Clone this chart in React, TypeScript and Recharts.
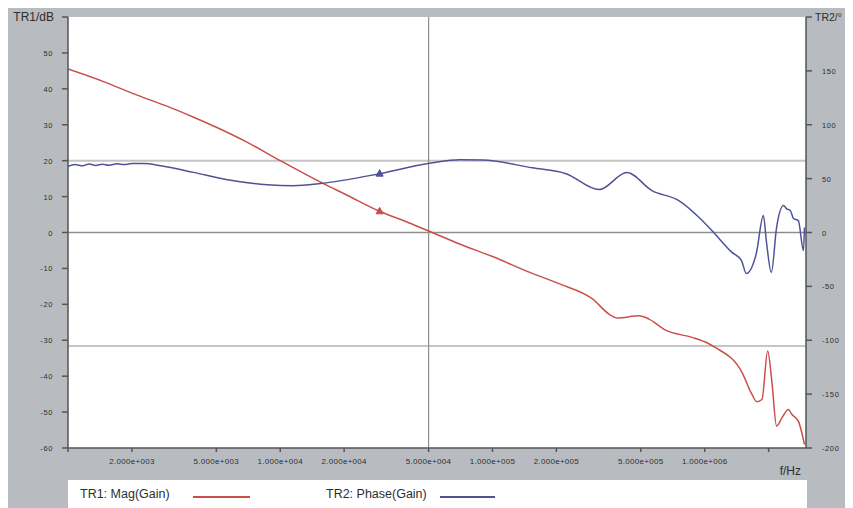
import {
  LineChart,
  Line,
  XAxis,
  YAxis,
  CartesianGrid,
  ReferenceLine,
  ReferenceDot,
  Legend,
} from 'recharts'

// TR1: magnitude (dB) vs frequency (Hz)
const magFreq = [
  1000, 1500, 2000, 3000, 3908, 5000, 7000, 10000, 16600, 20000, 29400, 40000,
  52000, 70000, 100000, 150000, 207000, 296000, 354000, 387000, 490000, 546000,
  654000, 871000, 1040000, 1120000, 1500000, 1670000, 1760000, 1860000, 1980000,
  2070000, 2180000, 2310000, 2480000, 2570000, 2760000, 2950000,
]
const magDb = [
  45.5, 41.8, 38.8, 34.9, 32.1, 29.3, 25.1, 20, 13.1, 10.8, 5.9, 2.8,
  0, -3.2, -6.7, -11.1, -14.3, -18.5, -22.7, -23.8, -23.2, -24.1,
  -27.2, -29.2, -30.9, -32.0, -39.0, -45.1, -47.1, -46.5, -33.0,
  -41.3, -53.9, -51.6, -49.3, -50.6, -52.5, -59.0,
]

// TR2: phase (deg) vs frequency (Hz)
const phaseFreq = [
  1000, 1080, 1170, 1260, 1350, 1450, 1560, 1700, 1850, 2000, 2275, 2730, 3908,
  5640, 8690, 11520, 15400, 29400, 52200, 70000, 90000, 154000, 222000, 318000,
  430000, 564000, 755000, 938000, 1080000, 1340000, 1490000, 1570000, 1750000,
  1890000, 1950000, 2060000, 2180000, 2350000, 2430000, 2530000, 2620000,
  2760000, 2920000, 2950000,
]
const phaseDeg = [
  61.5, 63, 62, 63.5, 62.2, 63.4, 62.5, 63.8, 63, 64, 64, 62, 55.8,
  49, 44.4, 43.5, 45.4, 54.6, 64.8, 67.5, 67.3, 60, 54.6, 39.8,
  55.6, 38.9, 29.6, 14.2, 1.9, -18.2, -26, -38, -19.4,
  15.7, -7.4, -37, 4.6, 25, 22, 20.4, 13,
  11, -16.7, 4.6,
]

const freqTicks = [1000, 2000, 5000, 10000, 20000, 50000, 100000, 200000, 500000, 1000000, 2000000]
const dbTicks = [-60, -50, -40, -30, -20, -10, 0, 10, 20, 30, 40, 50, 60]
const degTicks = [-200, -150, -100, -50, 0, 50, 100, 150, 200]

const markerFreq = 29400
const markerDb = 5.9
const markerDeg = 54.6
const cursorFreq = 50000
const levelHigh = 20
const levelLow = -31.6

const magData = magFreq.map((f, i) => ({ f, v: magDb[i] }))
const phaseData = phaseFreq.map((f, i) => ({ f, v: phaseDeg[i] }))

const RED = '#c84f4a'
const BLUE = '#4f5296'
const PANEL = '#b8bcc0'
const TEXT = '#2e2e2e'
const FONT = 'Arial, "Liberation Sans", sans-serif'

function fmtFreq(v: number) {
  if (v === 1000 || v === 2000000) return ''
  const [m, e] = v.toExponential(3).split('e')
  const sign = e.startsWith('-') ? '-' : '+'
  return `${m}e${sign}${e.replace(/[+-]/, '').padStart(3, '0')}`
}

function LeftTick(props: any) {
  const { x, y, payload } = props
  if (payload.value === 60) {
    return (
      <text x={x + 1} y={y + 4} textAnchor="end" fontSize={12} fill={TEXT} fontFamily={FONT}>
        TR1/dB
      </text>
    )
  }
  return (
    <text x={x} y={y + 3} textAnchor="end" fontSize={7.5} letterSpacing={0.6} fill={TEXT} fontFamily={FONT}>
      {payload.value}
    </text>
  )
}

function RightTick(props: any) {
  const { x, y, payload } = props
  if (payload.value === 200) {
    return (
      <text x={x - 7} y={y + 4} textAnchor="start" fontSize={10.5} fill={TEXT} fontFamily={FONT}>
        TR2/°
      </text>
    )
  }
  return (
    <text x={x} y={y + 3} textAnchor="start" fontSize={7.5} letterSpacing={0.6} fill={TEXT} fontFamily={FONT}>
      {payload.value}
    </text>
  )
}

function Triangle(color: string) {
  return (props: any) => {
    const { cx, cy } = props
    return (
      <path
        d={`M${cx},${cy - 4} L${cx + 3.5},${cy + 2.5} L${cx - 3.5},${cy + 2.5} Z`}
        fill={color}
        stroke={color}
      />
    )
  }
}

function LegendRow() {
  return (
    <div
      style={{
        position: 'relative',
        marginLeft: 60,
        width: 739,
        height: 28,
        background: '#fff',
        fontFamily: FONT,
        fontSize: 12.5,
        color: TEXT,
      }}
    >
      <span style={{ position: 'absolute', left: 12, top: 7 }}>TR1: Mag(Gain)</span>
      <span style={{ position: 'absolute', left: 125, top: 16, width: 57, height: 2, background: RED }} />
      <span style={{ position: 'absolute', left: 258, top: 7 }}>TR2: Phase(Gain)</span>
      <span style={{ position: 'absolute', left: 372, top: 16, width: 55, height: 2, background: BLUE }} />
    </div>
  )
}

export default function App() {
  return (
    <div style={{ width: 845, height: 500, background: PANEL }}>
      <LineChart width={845} height={500} margin={{ top: 9, right: 0, bottom: 0, left: 0 }}>
        <CartesianGrid fill="#fff" horizontal={false} vertical={false} yAxisId="left" />
        <XAxis
          dataKey="f"
          type="number"
          scale="log"
          domain={[1000, 3000000]}
          allowDataOverflow
          ticks={freqTicks}
          tickFormatter={fmtFreq}
          height={32}
          tickSize={4}
          tickMargin={6}
          stroke="#555"
          strokeWidth={1.5}
          tick={{ fontSize: 8, letterSpacing: 0.3, fill: TEXT, fontFamily: FONT }}
          label={{ value: 'f/Hz', position: 'insideBottomRight', offset: 5, fontSize: 12, fill: TEXT, fontFamily: FONT }}
        />
        <YAxis
          yAxisId="left"
          orientation="left"
          type="number"
          domain={[-60, 60]}
          ticks={dbTicks}
          width={60}
          tickSize={6}
          tickMargin={9}
          stroke="#555"
          strokeWidth={1.5}
          tick={<LeftTick />}
        />
        <YAxis
          yAxisId="right"
          orientation="right"
          type="number"
          domain={[-200, 200]}
          ticks={degTicks}
          width={47}
          tickSize={6}
          tickMargin={10}
          stroke="#555"
          strokeWidth={1.5}
          tick={<RightTick />}
        />
        <ReferenceLine yAxisId="left" y={levelHigh} stroke="#c4c4c4" strokeWidth={2} />
        <ReferenceLine yAxisId="left" y={0} stroke="#8e8e8e" strokeWidth={1.5} />
        <ReferenceLine yAxisId="left" y={levelLow} stroke="#8e8e8e" strokeWidth={1.2} />
        <ReferenceLine yAxisId="left" x={cursorFreq} stroke="#8e8e8e" strokeWidth={1.2} />
        <Line
          yAxisId="left"
          data={magData}
          dataKey="v"
          type="monotone"
          stroke={RED}
          strokeWidth={1.5}
          dot={false}
          isAnimationActive={false}
        />
        <Line
          yAxisId="right"
          data={phaseData}
          dataKey="v"
          type="monotone"
          stroke={BLUE}
          strokeWidth={1.5}
          dot={false}
          isAnimationActive={false}
        />
        <ReferenceDot yAxisId="left" x={markerFreq} y={markerDb} shape={Triangle(RED)} />
        <ReferenceDot yAxisId="right" x={markerFreq} y={markerDeg} shape={Triangle(BLUE)} />
        <Legend
          verticalAlign="bottom"
          content={() => <LegendRow />}
          wrapperStyle={{ left: 0, bottom: 0, width: 845 }}
        />
      </LineChart>
    </div>
  )
}
